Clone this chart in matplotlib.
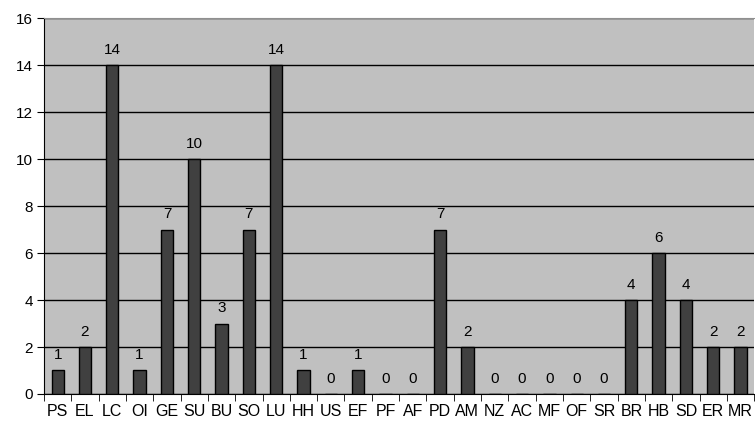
import matplotlib.pyplot as plt
import numpy as np

plt.rcParams['font.family'] = ['Liberation Sans', 'DejaVu Sans']

# categorias e contagens
categorias = ["PS", "EL", "LC", "OI", "GE", "SU", "BU", "SO", "LU", "HH", "US", "EF", "PF",
              "AF", "PD", "AM", "NZ", "AC", "MF", "OF", "SR", "BR", "HB", "SD", "ER", "MR"]
valores = [1, 2, 14, 1, 7, 10, 3, 7, 14, 1, 0, 1, 0,
           0, 7, 2, 0, 0, 0, 0, 0, 4, 6, 4, 2, 2]

fig = plt.figure(figsize=(7.55, 4.23), dpi=100)
ax = fig.add_axes([0.0583, 0.0686, 0.9407, 0.8884])
ax.set_facecolor("#C0C0C0")

x = np.arange(len(categorias))
ax.bar(x, valores, width=0.45, color="#404040", edgecolor="black", linewidth=1, zorder=3)

for xi, v in zip(x, valores):
    ax.annotate(str(v), (xi, v), xytext=(0, 6), textcoords="offset points",
                ha="center", va="bottom", fontsize=11)

ax.set_xlim(-0.5, len(categorias) - 0.5)
ax.set_ylim(0, 16)
ax.set_yticks(range(0, 17, 2))
ax.yaxis.grid(True, color="black", linewidth=1, zorder=1)
ax.set_axisbelow(True)

# rótulos no centro, traços entre as categorias
ax.set_xticks(x)
ax.set_xticklabels(categorias, fontsize=11.5)
ax.set_xticks(np.arange(-0.5, len(categorias), 1), minor=True)
ax.tick_params(axis="x", which="major", length=0, pad=7)
ax.tick_params(axis="x", which="minor", length=5, direction="out", color="black")
ax.tick_params(axis="y", length=5, direction="out", labelsize=11, pad=3)

ax.spines["top"].set_color("#909090")
ax.spines["right"].set_visible(False)
ax.spines["left"].set_color("black")
ax.spines["bottom"].set_color("black")

plt.savefig("out.png", dpi=100)
